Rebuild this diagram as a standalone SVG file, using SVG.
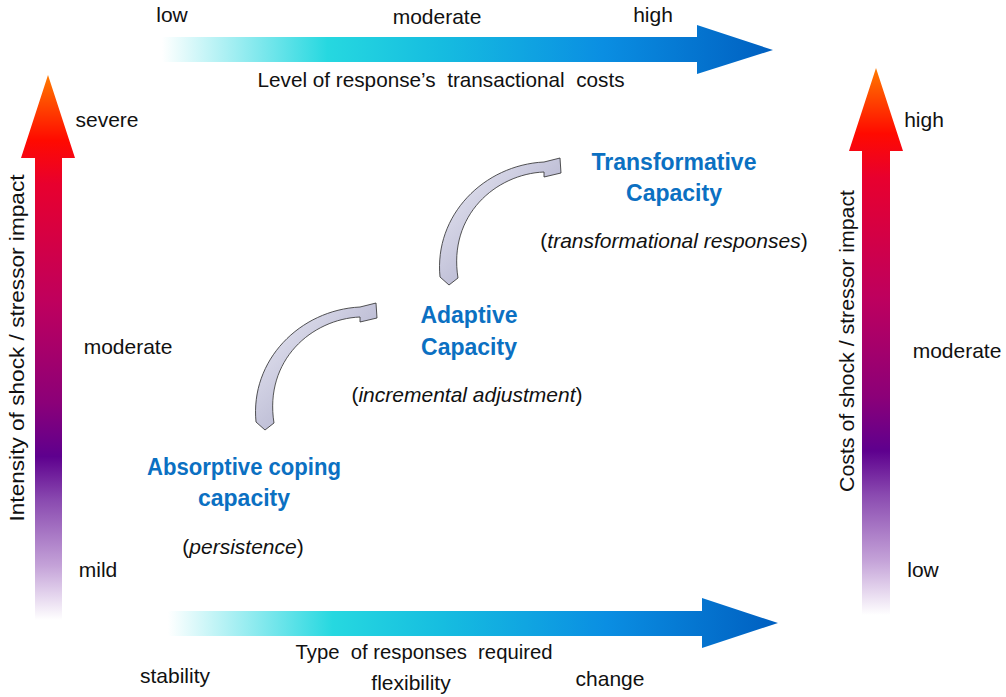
<svg xmlns="http://www.w3.org/2000/svg" width="1006" height="697" viewBox="0 0 1006 697">
<defs>
<linearGradient id="hgradTop" gradientUnits="userSpaceOnUse" x1="162" y1="0" x2="775" y2="0">
<stop offset="0" stop-color="#ffffff"/>
<stop offset="0.27" stop-color="#26d8e0"/>
<stop offset="0.45" stop-color="#16bde0"/>
<stop offset="0.72" stop-color="#0a8ee2"/>
<stop offset="1" stop-color="#005fc0"/>
</linearGradient>
<linearGradient id="hgradBot" gradientUnits="userSpaceOnUse" x1="168" y1="0" x2="778" y2="0">
<stop offset="0" stop-color="#ffffff"/>
<stop offset="0.27" stop-color="#26d8e0"/>
<stop offset="0.45" stop-color="#16bde0"/>
<stop offset="0.72" stop-color="#0a8ee2"/>
<stop offset="1" stop-color="#005fc0"/>
</linearGradient>
<linearGradient id="vgradL" gradientUnits="userSpaceOnUse" x1="0" y1="75" x2="0" y2="620">
<stop offset="0" stop-color="#ff7a00"/>
<stop offset="0.12" stop-color="#ff0a00"/>
<stop offset="0.2" stop-color="#e8002e"/>
<stop offset="0.42" stop-color="#be005e"/>
<stop offset="0.6" stop-color="#8c0078"/>
<stop offset="0.7" stop-color="#5e008e"/>
<stop offset="0.78" stop-color="#8a4ab0"/>
<stop offset="0.9" stop-color="#c4a2d8"/>
<stop offset="1" stop-color="#ffffff"/>
</linearGradient>
<linearGradient id="vgradR" gradientUnits="userSpaceOnUse" x1="0" y1="68" x2="0" y2="615">
<stop offset="0" stop-color="#ff7a00"/>
<stop offset="0.12" stop-color="#ff0a00"/>
<stop offset="0.2" stop-color="#e8002e"/>
<stop offset="0.42" stop-color="#be005e"/>
<stop offset="0.6" stop-color="#8c0078"/>
<stop offset="0.7" stop-color="#5e008e"/>
<stop offset="0.78" stop-color="#8a4ab0"/>
<stop offset="0.9" stop-color="#c4a2d8"/>
<stop offset="1" stop-color="#ffffff"/>
</linearGradient>
<linearGradient id="curveFill" x1="0" y1="0" x2="1" y2="1">
<stop offset="0" stop-color="#ececf6"/>
<stop offset="1" stop-color="#9c9cbe"/>
</linearGradient>
<path id="curvedArrow" d="M256,422 C250,360 300,310 360,307 L376,303 L377,318 L360,322 L360,317 C312,319 264,360 274,423 L265,430 Z"/>
</defs>
<style>
text{font-family:"Liberation Sans",Arial,sans-serif;font-size:21px;fill:#111;}
.node{font-weight:bold;font-size:23px;fill:#0b70c2;}
.it{font-style:italic;}
.pre{white-space:pre;}
.conn{fill:url(#curveFill);stroke:#2a2a2a;stroke-width:0.8;stroke-linejoin:round;}
</style>
<rect width="1006" height="697" fill="#ffffff"/>

<g id="axis-top">
<polygon points="162,37 697,37 697,25 773,50 697,74 697,62 162,62" fill="url(#hgradTop)"/>
<text x="172" y="22" text-anchor="middle">low</text>
<text x="437" y="24" text-anchor="middle">moderate</text>
<text x="653" y="22" text-anchor="middle">high</text>
<text class="pre" x="441" y="87" text-anchor="middle" textLength="367" lengthAdjust="spacingAndGlyphs">Level of response’s  transactional  costs</text>
</g>

<g id="axis-bottom">
<polygon points="168,611 702,611 702,598 778,623 702,648 702,636 168,636" fill="url(#hgradBot)"/>
<text x="175" y="683" text-anchor="middle">stability</text>
<text class="pre" x="424" y="659" text-anchor="middle" textLength="257" lengthAdjust="spacingAndGlyphs">Type  of responses  required</text>
<text x="411" y="690" text-anchor="middle">flexibility</text>
<text x="610" y="686" text-anchor="middle">change</text>
</g>

<g id="axis-left">
<polygon points="48,75 75,158 62,158 62,620 35,620 35,158 21,158" fill="url(#vgradL)"/>
<text x="107" y="127" text-anchor="middle">severe</text>
<text x="128" y="354" text-anchor="middle">moderate</text>
<text x="98" y="577" text-anchor="middle">mild</text>
<text transform="translate(24,348) rotate(-90)" text-anchor="middle" textLength="347" lengthAdjust="spacingAndGlyphs">Intensity of shock / stressor impact</text>
</g>

<g id="axis-right">
<polygon points="876,68 903,151 890,151 890,615 862,615 862,151 849,151" fill="url(#vgradR)"/>
<text x="924" y="127" text-anchor="middle">high</text>
<text x="957" y="358" text-anchor="middle">moderate</text>
<text x="923" y="577" text-anchor="middle">low</text>
<text transform="translate(854,341) rotate(-90)" text-anchor="middle" textLength="302" lengthAdjust="spacingAndGlyphs">Costs of shock / stressor impact</text>
</g>

<g id="node-transformative">
<text class="node" x="674" y="170" text-anchor="middle">Transformative</text>
<text class="node" x="674" y="201" text-anchor="middle">Capacity</text>
<text x="674" y="248" text-anchor="middle">(<tspan class="it">transformational responses</tspan>)</text>
</g>

<g id="node-adaptive">
<text class="node" x="469" y="323" text-anchor="middle">Adaptive</text>
<text class="node" x="469" y="355" text-anchor="middle">Capacity</text>
<text x="467" y="402" text-anchor="middle">(<tspan class="it">incremental adjustment</tspan>)</text>
</g>

<g id="node-absorptive">
<text class="node" x="244" y="475" text-anchor="middle" textLength="194" lengthAdjust="spacingAndGlyphs">Absorptive coping</text>
<text class="node" x="244" y="506" text-anchor="middle">capacity</text>
<text x="243" y="554" text-anchor="middle">(<tspan class="it">persistence</tspan>)</text>
</g>

<g id="connectors">
<use href="#curvedArrow" class="conn"/>
<use href="#curvedArrow" class="conn" transform="translate(184,-145)"/>
</g>
</svg>
